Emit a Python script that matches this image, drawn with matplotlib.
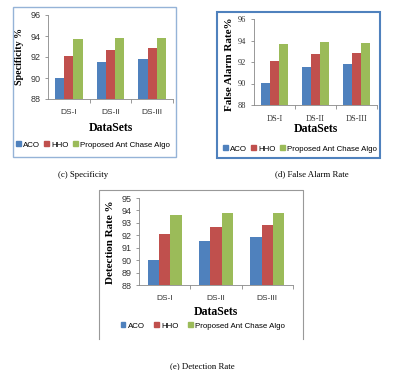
import numpy as np
import matplotlib
matplotlib.use('Agg')
import matplotlib.pyplot as plt
from matplotlib.patches import Rectangle, Patch
from matplotlib.lines import Line2D

# data
datasets = ['DS-I', 'DS-II', 'DS-III']
algos = ['ACO', 'HHO', 'Proposed Ant Chase Algo']
colors = ['#4F81BD', '#C0504D', '#9BBB59']

specificity = [[90.0, 91.5, 91.8],
               [92.1, 92.7, 92.85],
               [93.7, 93.8, 93.8]]
false_alarm = [[90.05, 91.5, 91.85],
               [92.1, 92.7, 92.85],
               [93.7, 93.85, 93.8]]
detection = [[90.05, 91.55, 91.85],
             [92.1, 92.7, 92.85],
             [93.65, 93.8, 93.8]]

W, H = 403, 370
fig = plt.figure(figsize=(W / 100, H / 100), dpi=100)

def fx(x):
    return x / W

def fy(y):
    return 1 - y / H

def frame(x0, y0, x1, y1, color, lw, bottom=True):
    if bottom:
        fig.patches.append(Rectangle((fx(x0), fy(y1)), fx(x1) - fx(x0), fy(y0) - fy(y1),
                                     transform=fig.transFigure, fill=False,
                                     edgecolor=color, linewidth=lw))
    else:
        fig.lines.append(Line2D([fx(x0), fx(x0), fx(x1), fx(x1)],
                                [fy(y1), fy(y0), fy(y0), fy(y1)],
                                transform=fig.transFigure, color=color, linewidth=lw))

def panel(box, values, ylim, yticks, ylabel, ylab_pos, ylab_size,
          xlab_y, leg_pos, leg_gap, caption, cap_pos, tick_font='Liberation Sans',
          ytick_size=6.5):
    l, r, t, b = box
    ax = fig.add_axes([fx(l), fy(b), fx(r) - fx(l), fy(t) - fy(b)])
    x = np.arange(len(datasets))
    w = 0.22
    for i, vals in enumerate(values):
        ax.bar(x + (i - 1) * w, vals, w, color=colors[i], label=algos[i])
    ax.set_xlim(-0.5, len(datasets) - 0.5)
    ax.set_ylim(*ylim)
    ax.set_xticks(x)
    ax.set_xticklabels(datasets, fontsize=6, family=tick_font, color='#333333')
    ax.set_yticks(yticks)
    ax.set_yticklabels([str(v) for v in yticks], fontsize=ytick_size,
                       family=tick_font, color='#333333')
    ax.set_xticks([0.5, 1.5, 2.5], minor=True)
    ax.tick_params(axis='x', which='major', length=0, pad=7)
    ax.tick_params(axis='x', which='minor', length=3, color='#888888', width=0.6)
    ax.tick_params(axis='y', length=2.5, color='#888888', width=0.6, pad=3)
    for s in ['top', 'right']:
        ax.spines[s].set_visible(False)
    for s in ['left', 'bottom']:
        ax.spines[s].set_color('#888888')
        ax.spines[s].set_linewidth(0.6)
    fig.text(fx(ylab_pos[0]), fy(ylab_pos[1]), ylabel, rotation=90, ha='center',
             va='center', fontsize=ylab_size, fontweight='bold', family='Liberation Serif')
    fig.text(fx((l + r) / 2), fy(xlab_y), 'DataSets', ha='center', va='center',
             fontsize=8.5, fontweight='bold', family='Liberation Serif')
    handles = [Patch(color=c) for c in colors]
    fig.legend(handles, algos, loc='center', bbox_to_anchor=(fx(leg_pos[0]), fy(leg_pos[1])),
               ncol=3, frameon=False, prop={'family': 'Liberation Sans', 'size': 5.7},
               handlelength=0.6, handleheight=0.6, handletextpad=0.3,
               columnspacing=leg_gap, borderpad=0)
    fig.text(fx(cap_pos[0]), fy(cap_pos[1]), caption, ha='center', va='center',
             fontsize=6.3, family='Liberation Serif')
    return ax

# (c) Specificity
frame(13, 7, 176, 157, '#95B3D7', 1.0)
panel((48, 173, 15, 99), specificity, (88, 96), [88, 90, 92, 94, 96],
      'Specificity %', (20, 56), 7.2, 128, (93, 145), 0.5,
      '(c) Specificity', (83, 175))

# (d) False Alarm Rate
frame(217, 12, 380, 158, '#4F81BD', 1.5)
panel((254, 377, 19, 105), false_alarm, (88, 96), [88, 90, 92, 94, 96],
      'False Alarm Rate%', (229, 64), 8.0, 129, (300, 149), 0.5,
      '(d) False Alarm Rate', (312, 174), tick_font='Liberation Serif', ytick_size=6)

# (e) Detection Rate
frame(99, 190, 303, 339, '#999999', 0.8, bottom=False)
panel((139, 293, 198, 285), detection, (88, 95), [88, 89, 90, 91, 92, 93, 94, 95],
      'Detection Rate %', (110, 242), 8, 312, (203, 326), 1.2,
      '(e) Detection Rate', (202, 366))

fig.savefig('out.png', dpi=100)
